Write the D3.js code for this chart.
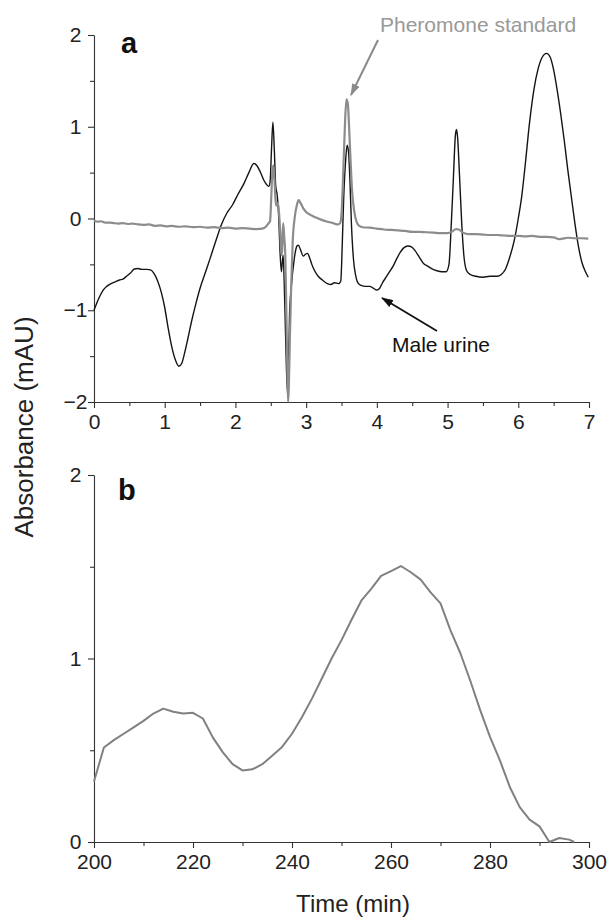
<!DOCTYPE html>
<html>
<head>
<meta charset="utf-8">
<script src="https://cdn.jsdelivr.net/npm/d3@7"></script>
<style>
  body { margin: 0; background: #fff; }
  text { font-family: "Liberation Sans", Arial, Helvetica, sans-serif; }
</style>
</head>
<body>
<div id="chart"></div>
<script>
// chromatogram data

// panel a: male urine (black trace), [time min, mAU]
let urineA = [
  [0.00,-1.00],[0.04,-0.92],[0.08,-0.85],[0.13,-0.78],[0.18,-0.74],[0.24,-0.71],
  [0.30,-0.69],[0.36,-0.67],[0.41,-0.66],[0.46,-0.63],[0.52,-0.59],[0.57,-0.55],
  [0.62,-0.545],[0.68,-0.555],[0.75,-0.555],[0.80,-0.56],[0.85,-0.60],[0.90,-0.68],
  [0.95,-0.80],[1.00,-0.97],[1.05,-1.20],[1.10,-1.40],[1.15,-1.54],[1.20,-1.61],
  [1.24,-1.58],[1.28,-1.47],[1.33,-1.30],[1.38,-1.12],[1.44,-0.93],[1.50,-0.76],
  [1.57,-0.60],[1.64,-0.44],[1.72,-0.25],[1.80,-0.07],[1.88,0.06],[1.96,0.15],
  [2.04,0.27],[2.12,0.38],[2.19,0.50],[2.26,0.60],[2.30,0.58],[2.35,0.51],
  [2.40,0.42],[2.44,0.37],[2.47,0.35],[2.49,0.40],[2.51,0.75],[2.53,1.05],
  [2.55,0.75],[2.57,0.35],[2.59,0.26],[2.61,0.05],[2.63,-0.35],[2.65,-0.58],
  [2.66,-0.50],[2.675,-0.40],[2.69,-0.70],[2.71,-1.30],[2.735,-1.90],[2.75,-1.70],
  [2.765,-1.05],[2.79,-0.75],[2.83,-0.45],[2.87,-0.30],[2.89,-0.29],[2.92,-0.34],
  [2.96,-0.41],[2.99,-0.39],[3.02,-0.38],[3.05,-0.43],[3.08,-0.50],[3.12,-0.57],
  [3.17,-0.63],[3.23,-0.67],[3.30,-0.71],[3.35,-0.72],[3.40,-0.70],[3.46,-0.71],
  [3.49,-0.68],[3.51,-0.30],[3.53,0.20],[3.56,0.65],[3.58,0.80],[3.60,0.72],
  [3.62,0.40],[3.64,-0.05],[3.67,-0.45],[3.70,-0.62],[3.74,-0.71],[3.78,-0.73],
  [3.84,-0.74],[3.90,-0.74],[3.95,-0.76],[4.00,-0.78],[4.04,-0.76],[4.08,-0.70],
  [4.13,-0.64],[4.18,-0.58],[4.23,-0.52],[4.28,-0.44],[4.33,-0.37],[4.38,-0.32],
  [4.44,-0.30],[4.49,-0.31],[4.54,-0.35],[4.60,-0.42],[4.66,-0.49],[4.72,-0.52],
  [4.78,-0.55],[4.85,-0.57],[4.92,-0.58],[4.98,-0.58],[5.02,-0.50],[5.05,-0.10],
  [5.08,0.40],[5.11,0.90],[5.125,0.97],[5.14,0.90],[5.17,0.45],[5.20,-0.05],
  [5.23,-0.40],[5.27,-0.57],[5.32,-0.61],[5.40,-0.63],[5.50,-0.64],[5.60,-0.63],
  [5.70,-0.63],[5.76,-0.61],[5.82,-0.55],[5.88,-0.42],[5.94,-0.25],[6.00,0.00],
  [6.05,0.25],[6.10,0.60],[6.16,1.05],[6.22,1.40],[6.28,1.63],[6.34,1.76],
  [6.40,1.80],[6.45,1.76],[6.50,1.62],[6.55,1.40],[6.60,1.14],[6.65,0.85],
  [6.70,0.53],[6.75,0.24],[6.80,-0.05],[6.85,-0.30],[6.90,-0.48],[6.95,-0.58],
  [6.99,-0.64]
];

// panel a: pheromone standard (grey trace)
let standardA = [
  [0.00,-0.02],[0.05,-0.035],[0.10,-0.03],[0.16,-0.045],[0.22,-0.045],[0.28,-0.05],
  [0.34,-0.055],[0.40,-0.05],[0.48,-0.06],[0.55,-0.055],[0.62,-0.065],[0.70,-0.07],
  [0.78,-0.065],[0.86,-0.08],[0.94,-0.075],[1.02,-0.085],[1.10,-0.08],[1.20,-0.09],
  [1.30,-0.085],[1.40,-0.095],[1.50,-0.09],[1.60,-0.10],[1.70,-0.095],[1.80,-0.105],
  [1.90,-0.10],[2.00,-0.11],[2.10,-0.105],[2.20,-0.11],[2.30,-0.115],[2.38,-0.11],
  [2.43,-0.09],[2.47,-0.05],[2.49,-0.03],[2.505,0.20],[2.52,0.48],[2.535,0.58],
  [2.55,0.45],[2.565,0.22],[2.58,0.14],[2.595,0.17],[2.61,0.12],[2.63,-0.10],
  [2.65,-0.40],[2.66,-0.35],[2.675,-0.05],[2.69,-0.20],[2.705,-0.40],[2.72,-1.00],
  [2.735,-1.70],[2.745,-2.00],[2.755,-1.85],[2.77,-1.30],[2.79,-0.70],[2.81,-0.25],
  [2.84,0.02],[2.87,0.15],[2.895,0.20],[2.92,0.17],[2.96,0.11],[3.00,0.07],
  [3.06,0.04],[3.14,0.01],[3.22,-0.015],[3.30,-0.035],[3.38,-0.05],[3.45,-0.065],
  [3.48,-0.05],[3.50,0.05],[3.52,0.40],[3.55,1.05],[3.57,1.30],[3.59,1.25],
  [3.61,0.95],[3.63,0.60],[3.65,0.30],[3.68,0.08],[3.71,-0.03],[3.75,-0.08],
  [3.80,-0.095],[3.90,-0.10],[4.00,-0.11],[4.10,-0.12],[4.20,-0.125],[4.30,-0.13],
  [4.40,-0.135],[4.50,-0.145],[4.60,-0.145],[4.70,-0.15],[4.80,-0.155],[4.90,-0.16],
  [5.00,-0.16],[5.06,-0.145],[5.12,-0.115],[5.16,-0.12],[5.22,-0.155],[5.30,-0.17],
  [5.40,-0.17],[5.50,-0.175],[5.60,-0.18],[5.70,-0.18],[5.80,-0.185],[5.90,-0.19],
  [6.00,-0.19],[6.10,-0.195],[6.20,-0.19],[6.30,-0.20],[6.40,-0.20],[6.50,-0.205],
  [6.58,-0.225],[6.62,-0.22],[6.70,-0.21],[6.80,-0.215],[6.90,-0.215],[6.99,-0.22]
];

// panel b: time (min) and absorbance
let timeB = [200,202,204,206,208,210,212,214,216,218,220,222,224,226,228,230,232,234,
  236,238,240,242,244,246,248,250,252,254,256,258,260,262,264,266,268,270,272,274,
  276,278,280,282,284,286,288,290,292,294,296,297];
let absB = [0.33,0.515,0.555,0.59,0.625,0.66,0.70,0.727,0.71,0.70,0.704,0.673,0.57,
  0.49,0.424,0.39,0.396,0.424,0.47,0.518,0.59,0.68,0.78,0.89,1.0,1.10,1.21,1.315,
  1.38,1.45,1.476,1.504,1.47,1.43,1.36,1.30,1.155,1.03,0.88,0.72,0.573,0.445,0.30,
  0.19,0.122,0.085,0.0,0.022,0.013,0.0];

// ticks
let xMajorA = [0,1,2,3,4,5,6,7];
let xMinorA = [0.5,1.5,2.5,3.5,4.5,5.5,6.5];
let yMajorA = [-2,-1,0,1,2];
let yMinorA = [-1.5,-0.5,0.5,1.5];
let xMajorB = [200,220,240,260,280,300];
let xMinorB = [210,230,250,270,290];
let yMajorB = [0,1,2];
let yMinorB = [0.5,1.5];

let width = 608;
let height = 918;
let left = 94, right = 589;

let svg = d3.select("#chart").append("svg")
  .attr("width", width).attr("height", height);

let defs = svg.append("defs");
function addArrow(id, color) {
  defs.append("marker")
    .attr("id", id)
    .attr("viewBox", "0 0 12 8")
    .attr("refX", 11).attr("refY", 4)
    .attr("markerWidth", 12).attr("markerHeight", 8)
    .attr("markerUnits", "userSpaceOnUse")
    .attr("orient", "auto")
    .append("path")
    .attr("d", "M0,0 L12,4 L0,8 Z")
    .attr("fill", color);
}
addArrow("arrowGrey", "#8a8a8a");
addArrow("arrowBlack", "#111");

// minus sign like the original figure
let fmt = d => d < 0 ? "\u2212" + Math.abs(d) : String(d);

// draws one pair of axes with major (labelled) and minor ticks
function drawAxes(x, y, xMaj, xMin, yMaj, yMin) {
  let yBottom = y.range()[0];
  let gx = svg.append("g").attr("transform", `translate(0,${yBottom})`);
  gx.call(d3.axisBottom(x).tickValues(xMaj).tickSize(6).tickPadding(6)
    .tickSizeOuter(0).tickFormat(fmt));
  svg.append("g").attr("transform", `translate(0,${yBottom})`)
    .call(d3.axisBottom(x).tickValues(xMin).tickSize(4).tickFormat("").tickSizeOuter(0))
    .select(".domain").remove();

  let gy = svg.append("g").attr("transform", `translate(${left},0)`);
  gy.call(d3.axisLeft(y).tickValues(yMaj).tickSize(6).tickSizeOuter(0).tickFormat(fmt));
  svg.append("g").attr("transform", `translate(${left},0)`)
    .call(d3.axisLeft(y).tickValues(yMin).tickSize(4).tickFormat("").tickSizeOuter(0))
    .select(".domain").remove();

  // y labels sit centred left of the axis
  gy.selectAll(".tick text")
    .attr("x", -18.5)
    .attr("text-anchor", "middle");

  svg.selectAll(".tick text")
    .attr("font-size", 21)
    .attr("font-family", "Liberation Sans, Arial, sans-serif")
    .attr("fill", "#222");
  svg.selectAll(".domain, .tick line").attr("stroke", "#333").attr("stroke-width", 1.1);
}

////////////////////////////////////////////////////////////////////////
// Panel a

let xA = d3.scaleLinear().domain([0, 7]).range([left, right]);
let yA = d3.scaleLinear().domain([-2, 2]).range([402, 35]);

drawAxes(xA, yA, xMajorA, xMinorA, yMajorA, yMinorA);

let lineA = d3.line()
  .x(d => xA(d[0]))
  .y(d => yA(d[1]))
  .curve(d3.curveMonotoneX);

svg.append("path")
  .datum(urineA)
  .attr("d", lineA)
  .attr("fill", "none")
  .attr("stroke", "#141414")
  .attr("stroke-width", 1.4)
  .attr("stroke-linejoin", "round");

svg.append("path")
  .datum(standardA)
  .attr("d", lineA)
  .attr("fill", "none")
  .attr("stroke", "#8c8c8c")
  .attr("stroke-width", 2.2)
  .attr("stroke-linejoin", "round");

// annotations
svg.append("text")
  .attr("x", 380).attr("y", 32)
  .attr("font-size", 21)
  .attr("fill", "#999")
  .text("Pheromone standard");

svg.append("line")
  .attr("x1", 378).attr("y1", 40)
  .attr("x2", 351).attr("y2", 95)
  .attr("stroke", "#8a8a8a")
  .attr("stroke-width", 2)
  .attr("marker-end", "url(#arrowGrey)");

svg.append("text")
  .attr("x", 392).attr("y", 352)
  .attr("font-size", 21)
  .attr("fill", "#111")
  .text("Male urine");

svg.append("line")
  .attr("x1", 437).attr("y1", 331)
  .attr("x2", 382).attr("y2", 298)
  .attr("stroke", "#111")
  .attr("stroke-width", 1.8)
  .attr("marker-end", "url(#arrowBlack)");

svg.append("text")
  .attr("x", 121).attr("y", 53)
  .attr("font-size", 29)
  .attr("font-weight", "bold")
  .attr("fill", "#111")
  .text("a");

////////////////////////////////////////////////////////////////////////
// Panel b

let xB = d3.scaleLinear().domain([200, 300]).range([left, right]);
let yB = d3.scaleLinear().domain([0, 2]).range([842, 475]);

drawAxes(xB, yB, xMajorB, xMinorB, yMajorB, yMinorB);

let lineB = d3.line()
  .x((d, i) => xB(timeB[i]))
  .y(d => yB(d));

svg.append("path")
  .datum(absB)
  .attr("d", lineB)
  .attr("fill", "none")
  .attr("stroke", "#808080")
  .attr("stroke-width", 2)
  .attr("stroke-linejoin", "round");

svg.append("text")
  .attr("x", 118).attr("y", 500)
  .attr("font-size", 29)
  .attr("font-weight", "bold")
  .attr("fill", "#111")
  .text("b");

////////////////////////////////////////////////////////////////////////
// shared axis titles

svg.append("text")
  .attr("transform", "translate(33,427) rotate(-90)")
  .attr("text-anchor", "middle")
  .attr("font-size", 26)
  .attr("fill", "#222")
  .text("Absorbance (mAU)");

svg.append("text")
  .attr("x", 353).attr("y", 912)
  .attr("text-anchor", "middle")
  .attr("font-size", 24)
  .attr("fill", "#222")
  .text("Time (min)");
</script>
</body>
</html>
